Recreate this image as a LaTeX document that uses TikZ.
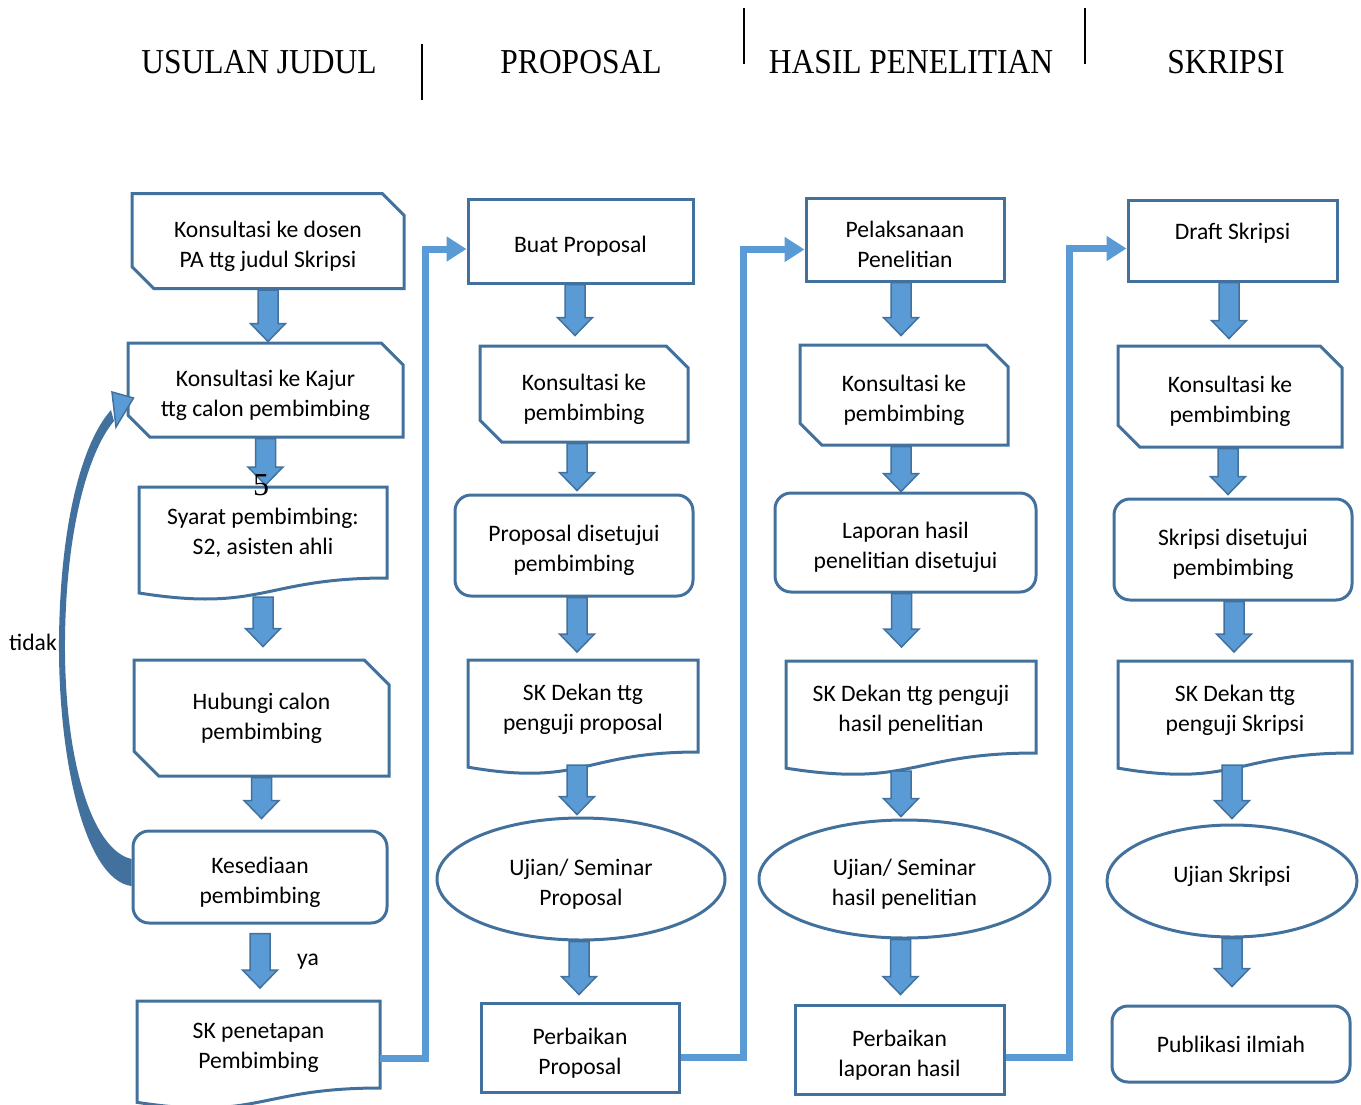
\documentclass[tikz,border=0pt]{standalone}
\usepackage{fontspec}
\usepackage{tikz}
\usetikzlibrary{positioning}
\usetikzlibrary{calc}
\usetikzlibrary{arrows.meta}
\usetikzlibrary{shapes.misc,shapes.geometric}
\newfontfamily\boxfont{Carlito}
\newfontfamily\headfont[FakeStretch=0.9]{Liberation Serif}
\newfontfamily\numfont{Liberation Serif}
\definecolor{bdark}{RGB}{65,113,156}
\definecolor{bfill}{RGB}{91,155,213}
\newcommand{\topgap}{\rule{0pt}{13.5pt}}
\newcommand{\topgapdoc}{\rule{0pt}{11.5pt}}
\tikzset{
  outline/.style={draw=bdark,line width=1.5pt},
  txt/.style={align=center,font=\boxfont\fontsize{11.8}{15}\selectfont,inner sep=2pt},
  rectbox/.style={outline,txt,rectangle},
  snipbox/.style={outline,txt,chamfered rectangle,
    chamfered rectangle corners={north east,south west},chamfered rectangle xsep=8pt},
  roundbox/.style={outline,txt,rectangle,rounded corners=8pt},
  ovalbox/.style={outline,txt,ellipse,inner sep=0pt},
  docbox/.style={txt,rectangle,outer sep=0pt},
  heading/.style={font=\headfont\fontsize{17.5}{20}\selectfont},
  barrow/.style={draw=bdark,fill=bfill,line width=0.75pt,
    to path={let \p1=(\tikztostart), \p2=(\tikztotarget) in
      (\x1-5pt,\y1) -- (\x1-5pt,\y2+9pt) -- (\x1-8.75pt,\y2+9pt) -- (\x1,\y2)
      -- (\x1+8.75pt,\y2+9pt) -- (\x1+5pt,\y2+9pt) -- (\x1+5pt,\y1) -- cycle}},
  link/.style={draw=bfill,line width=3.5pt,-{Triangle[length=10pt,width=12pt]}}
}
\newcommand{\docoutline}[1]{%
  \draw[outline] let \p1=(#1.north west), \p2=(#1.south east) in
    (\x1,{\y2-0.1646*(\y1-\y2)}) -- (\p1) -- (\x2,\y1) -- (\p2)
    .. controls ({(\x1+\x2)/2},\y2) and ({(\x1+\x2)/2},{\y2-0.38*(\y1-\y2)})
    .. (\x1,{\y2-0.1646*(\y1-\y2)}) -- cycle;}
\begin{document}
\begin{tikzpicture}[x=0.5pt,y=-0.5pt]
  \useasboundingbox (0,0) rectangle (1361,1104);
  % headings
  \node[heading] (hd1) at (259,62) {USULAN JUDUL};
  \node[heading] (hd2) at (581,62) {PROPOSAL};
  \node[heading] (hd3) at (911,62) {HASIL PENELITIAN};
  \node[heading] (hd4) at (1226,62) {SKRIPSI};
  \draw[line width=0.75pt] (422,44) -- (422,100);
  \draw[line width=0.75pt] (744,8) -- (744,64);
  \draw[line width=0.75pt] (1085,8) -- (1085,64);

  % usulan judul
  \node[snipbox,minimum width=136pt,minimum height=47.5pt] (k1) at (268,241) {\topgap Konsultasi ke dosen\\PA ttg judul Skripsi};
  \node[snipbox,minimum width=137.5pt,minimum height=47pt] (k2) at (265.5,390) {\topgap Konsultasi ke Kajur\\ttg calon pembimbing};
  \node[docbox,minimum width=124pt,minimum height=45.5pt] (syarat) at (263,532.5) {Syarat pembimbing:\\S2, asisten ahli};
  \node[snipbox,chamfered rectangle xsep=9.5pt,minimum width=127.5pt,minimum height=58pt] (hub) at (261.5,718) {Hubungi calon\\pembimbing};
  \node[roundbox,minimum width=127pt,minimum height=46pt] (kes) at (260,877) {\topgap Kesediaan\\pembimbing};
  \node[docbox,minimum width=121.5pt,minimum height=43.5pt] (skp) at (258.5,1044.5) {\topgapdoc SK penetapan\\Pembimbing};

  % proposal
  \node[rectbox,minimum width=112.5pt,minimum height=42pt] (buat) at (580.5,241) {\topgap Buat Proposal};
  \node[snipbox,minimum width=104pt,minimum height=48pt] (kons2) at (584,394) {\topgap Konsultasi ke\\pembimbing};
  \node[roundbox,minimum width=119pt,minimum height=50.5pt] (setuju2) at (574,545.5) {\topgap Proposal disetujui\\pembimbing};
  \node[docbox,minimum width=115pt,minimum height=46pt] (skd2) at (583,706) {\topgapdoc SK Dekan ttg\\penguji proposal};
  \node[ovalbox,minimum width=144pt,minimum height=61pt] (ujian2) at (581,879) {\topgap Ujian/ Seminar\\Proposal};
  \node[rectbox,minimum width=99pt,minimum height=44.5pt] (perb2) at (580,1047.5) {\topgap Perbaikan\\Proposal};

  % hasil penelitian
  \node[rectbox,minimum width=99pt,minimum height=41.5pt] (pel) at (905,239.5) {\topgap Pelaksanaan\\Penelitian};
  \node[snipbox,minimum width=104pt,minimum height=50pt] (kons3) at (904,395) {\topgap Konsultasi ke\\pembimbing};
  \node[roundbox,minimum width=130.5pt,minimum height=49.5pt] (lap) at (905.5,542.5) {\topgap Laporan hasil\\penelitian disetujui};
  \node[docbox,minimum width=125pt,minimum height=46pt] (skd3) at (911,707) {\topgapdoc SK Dekan ttg penguji\\hasil penelitian};
  \node[ovalbox,minimum width=145.5pt,minimum height=59pt] (ujian3) at (904.5,879) {\topgap Ujian/ Seminar\\hasil penelitian};
  \node[rectbox,minimum width=104.5pt,minimum height=44.5pt] (perb3) at (899.5,1049.5) {\topgap Perbaikan\\laporan hasil};

  % skripsi
  \node[rectbox,minimum width=104.5pt,minimum height=40.5pt] (draft) at (1232.5,240.5) {\topgap Draft Skripsi\\~};
  \node[snipbox,minimum width=112pt,minimum height=50.5pt] (kons4) at (1230,396.5) {\topgap Konsultasi ke\\pembimbing};
  \node[roundbox,minimum width=119pt,minimum height=50.5pt] (setuju4) at (1233,549.5) {\topgap Skripsi disetujui\\pembimbing};
  \node[docbox,minimum width=117pt,minimum height=46pt] (skd4) at (1235,707) {\topgapdoc SK Dekan ttg\\penguji Skripsi};
  \node[ovalbox,minimum width=125pt,minimum height=56pt] (ujian4) at (1232,881) {Ujian Skripsi\\[-8pt]~};
  \node[roundbox,minimum width=119pt,minimum height=38pt] (pub) at (1231,1044) {Publikasi ilmiah};

  \docoutline{syarat}
  \docoutline{skp}
  \docoutline{skd2}
  \docoutline{skd3}
  \docoutline{skd4}

  % links between columns
  \draw[link] ([yshift=-7pt]skp.east) -- ++(45,0) |- ([yshift=-4pt]buat.west);
  \draw[link] ([yshift=-5pt]perb2.east) -- ++(63,0) |- ([yshift=-5pt]pel.west);
  \draw[link] ([yshift=-4pt]perb3.east) -- ++(64,0) |- ([yshift=-4pt]draft.west);

  % block arrows
  \draw[barrow] (k1.south) to (k2.north);
  \draw[barrow] (k2.south) to ([yshift=1pt]syarat.north);
  \draw[barrow] ([yshift=-9.5pt]syarat.south) to ([yshift=6pt]hub.north);
  \draw[barrow] (hub.south) to ([yshift=5.5pt]kes.north);
  \draw[barrow] ([yshift=-4.5pt]kes.south) to ([yshift=6.5pt]skp.north);

  \draw[barrow] ([xshift=-2.75pt]buat.south) to ([yshift=4.5pt]kons2.north);
  \draw[barrow] ([xshift=-3.5pt]kons2.south) to ([yshift=1.5pt]setuju2.north);
  \draw[barrow] ([xshift=1.5pt]setuju2.south) to ([yshift=4pt]skd2.north);
  \draw[barrow] ([xshift=-3pt,yshift=-6.5pt]skd2.south) to ([yshift=1pt]ujian2.north);
  \draw[barrow] ([xshift=-1pt]ujian2.south) to ([yshift=3.5pt]perb2.north);

  \draw[barrow] ([xshift=-2pt]pel.south) to ([yshift=4pt]kons3.north);
  \draw[barrow] ([xshift=-1.5pt]kons3.south) to (lap.north);
  \draw[barrow] ([xshift=-2pt]lap.south) to ([yshift=7pt]skd3.north);
  \draw[barrow] ([xshift=-5pt,yshift=-9pt]skd3.south) to ([yshift=1pt]ujian3.north);
  \draw[barrow] ([xshift=-2pt]ujian3.south) to ([yshift=4.5pt]perb3.north);

  \draw[barrow] ([xshift=-1.75pt]draft.south) to ([yshift=3pt]kons4.north);
  \draw[barrow] ([xshift=-1pt]kons4.south) to ([yshift=1.5pt]setuju4.north);
  \draw[barrow] ([xshift=0.5pt]setuju4.south) to ([yshift=4.5pt]skd4.north);
  \draw[barrow] ([xshift=-1.5pt,yshift=-6pt]skd4.south) to ([yshift=2.5pt]ujian4.north);
  \draw[barrow] (ujian4.south) to ([yshift=9pt]pub.north);

  % tidak loop
  \fill[bdark] ([yshift=-4.5pt]kes.west) .. controls (85,880) and (58,760) .. (59,640)
    .. controls (60,530) and (80,445) .. (111,410) -- (114,421)
    .. controls (88,452) and (66,530) .. (65,640)
    .. controls (64,760) and (92,850) .. ([yshift=9pt]kes.west) -- cycle;
  \draw[fill=bfill,draw=bdark,line width=0.75pt] (112,392) -- ([xshift=3.5pt,yshift=-4pt]k2.west) -- (116,427) -- cycle;

  \node[txt] (tidak) at (33,642) {tidak};
  \node[txt] (ya) at (308,962) {ya};
  \node[font=\numfont\fontsize{16}{18}\selectfont] (nomor) at (261,485) {5};
\end{tikzpicture}
\end{document}
